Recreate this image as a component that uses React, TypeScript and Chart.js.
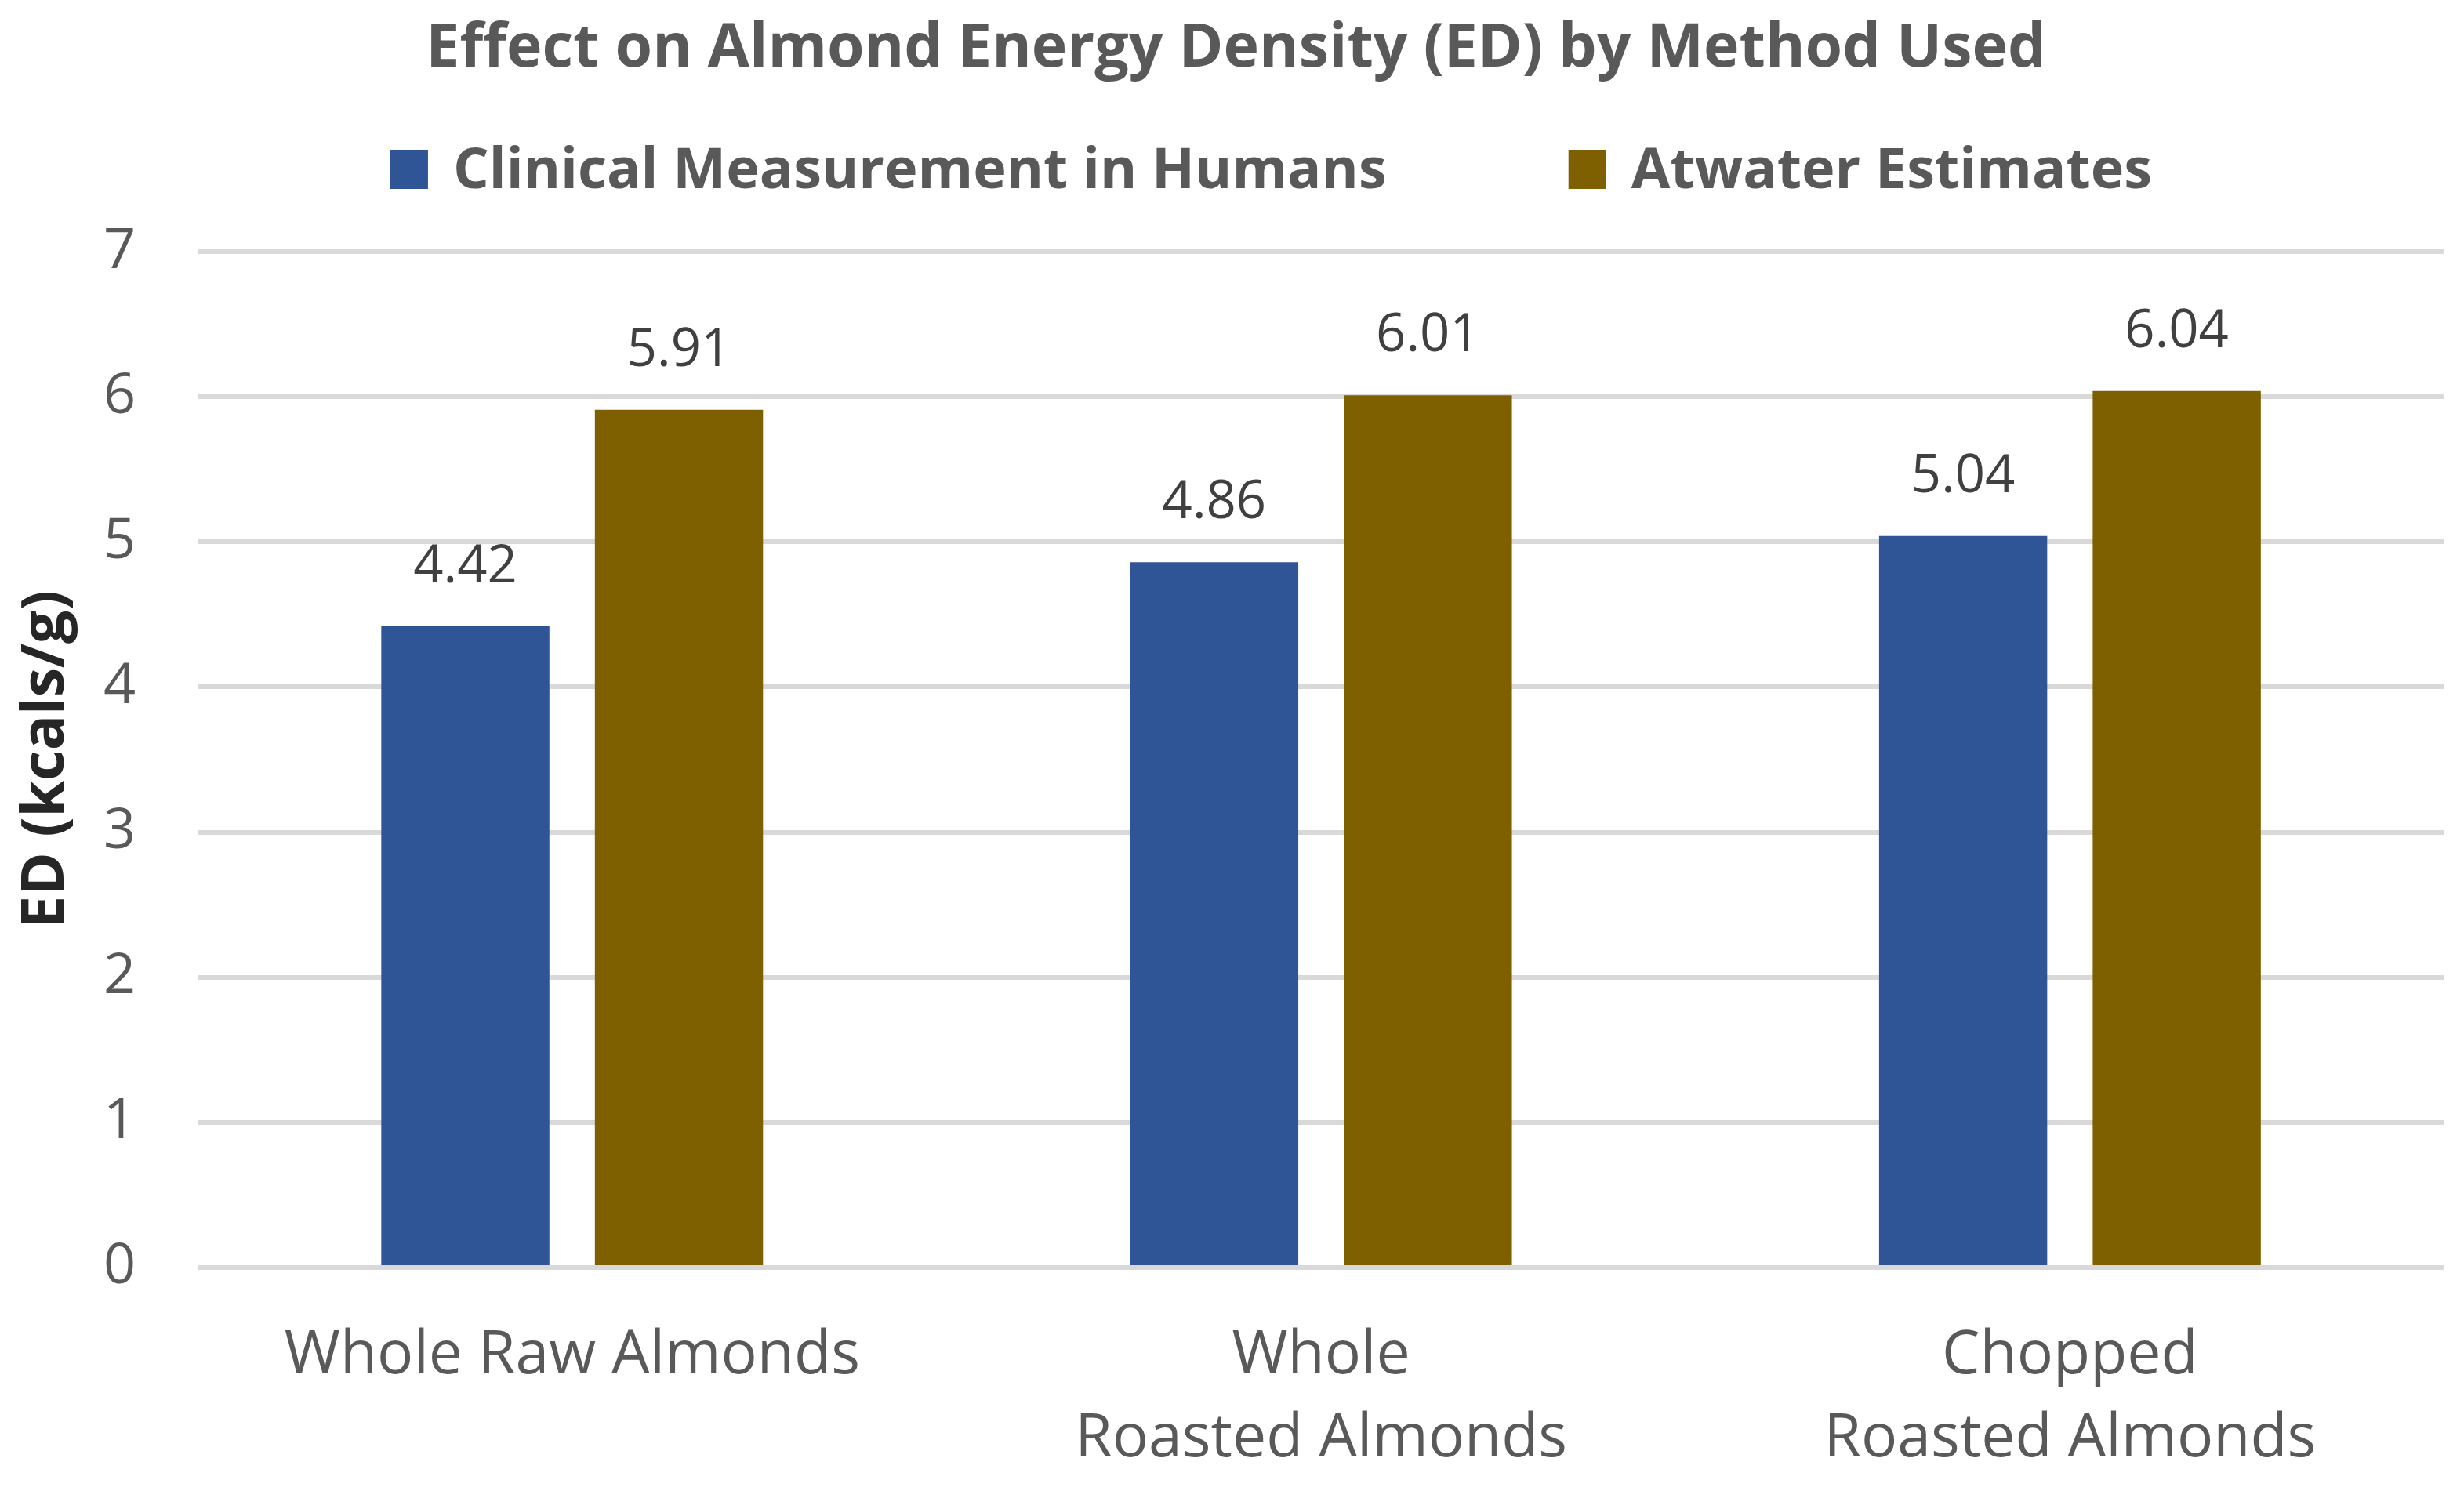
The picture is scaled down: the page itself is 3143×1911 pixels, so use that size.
import React, { useEffect, useRef } from 'react';
import { Chart, registerables } from 'chart.js';

Chart.register(...registerables);

const TITLE = 'Effect on Almond Energy Density (ED) by Method Used';
const Y_TITLE = 'ED (kcals/g)';
const categories: string[][] = [
  ['Whole Raw Almonds'],
  ['Whole', 'Roasted Almonds'],
  ['Chopped', 'Roasted Almonds'],
];
const seriesNames = ['Clinical Measurement in Humans', 'Atwater Estimates'];
const clinicalValues = [4.42, 4.86, 5.04];
const atwaterValues = [5.91, 6.01, 6.04];
const seriesColors = ['#2F5597', '#7F6000'];
const yMin = 0;
const yMax = 7;
const yStep = 1;

const FONT = '"Open Sans", "DejaVu Sans", sans-serif';

const headerPlugin = {
  id: 'header',
  afterDraw(chart: any) {
    const ctx = chart.ctx;
    ctx.save();
    // Title
    ctx.font = `bold 77px ${FONT}`;
    ctx.fillStyle = '#595959';
    ctx.textAlign = 'center';
    ctx.textBaseline = 'middle';
    ctx.fillText(TITLE, chart.width / 2 + 5, 63);

    // Legend
    ctx.font = `bold 72px ${FONT}`;
    const boxW = 48;
    const boxH = 50;
    const gap = 32;
    const itemGap = 232;
    const items = chart.data.datasets.map((ds: any) => ({
      label: ds.label as string,
      color: ds.backgroundColor as string,
      w: ctx.measureText(ds.label).width,
    }));
    const total =
      items.reduce((s: number, it: any) => s + boxW + gap + it.w, 0) + itemGap * (items.length - 1);
    let x = chart.width / 2 + 50 - total / 2;
    const boxTop = 191;
    const baseline = 240;
    ctx.textAlign = 'left';
    ctx.textBaseline = 'alphabetic';
    items.forEach((it: any) => {
      ctx.fillStyle = it.color;
      ctx.fillRect(x, boxTop, boxW, boxH);
      x += boxW + gap;
      ctx.fillStyle = '#595959';
      ctx.fillText(it.label, x, baseline);
      x += it.w + itemGap;
    });
    ctx.restore();
  },
};

const dataLabelPlugin = {
  id: 'barValueLabels',
  afterDatasetsDraw(chart: any) {
    const ctx = chart.ctx;
    ctx.save();
    ctx.font = `67px ${FONT}`;
    ctx.fillStyle = '#404040';
    ctx.textAlign = 'center';
    ctx.textBaseline = 'alphabetic';
    chart.data.datasets.forEach((ds: any, di: number) => {
      const meta = chart.getDatasetMeta(di);
      meta.data.forEach((el: any, i: number) => {
        const v = ds.data[i] as number;
        ctx.fillText(v.toFixed(2), el.x, el.y - 56);
      });
    });
    ctx.restore();
  },
};

export default function App() {
  const canvasRef = useRef<HTMLCanvasElement | null>(null);

  useEffect(() => {
    document.body.style.margin = '0';
    const canvas = canvasRef.current;
    if (!canvas) return;
    const chart = new Chart(canvas, {
      type: 'bar',
      data: {
        labels: categories as any,
        datasets: [
          {
            label: seriesNames[0],
            data: clinicalValues,
            backgroundColor: seriesColors[0],
            categoryPercentage: 0.5705,
            barPercentage: 0.787,
          },
          {
            label: seriesNames[1],
            data: atwaterValues,
            backgroundColor: seriesColors[1],
            categoryPercentage: 0.5705,
            barPercentage: 0.787,
          },
        ],
      },
      options: {
        responsive: false,
        animation: false,
        devicePixelRatio: 1,
        layout: { padding: { left: 0, right: 25, top: 321, bottom: -38 } },
        plugins: {
          legend: { display: false },
          tooltip: { enabled: false },
          title: { display: false },
        },
        scales: {
          x: {
            grid: { display: false, drawTicks: false },
            border: { display: false },
            ticks: {
              color: '#595959',
              font: { family: FONT, size: 77, lineHeight: 1.377 },
              padding: 60,
              maxRotation: 0,
              autoSkip: false,
            },
          },
          y: {
            min: yMin,
            max: yMax,
            grid: { color: '#D9D9D9', lineWidth: 6, drawTicks: false },
            border: { display: false },
            ticks: {
              stepSize: yStep,
              color: '#595959',
              font: { family: FONT, size: 72 },
              padding: 79,
            },
            title: {
              display: true,
              text: Y_TITLE,
              color: '#262626',
              font: { family: FONT, size: 75, weight: 'bold' },
              padding: { top: 15, bottom: -52 },
            },
          },
        },
      },
      plugins: [headerPlugin, dataLabelPlugin],
    });
    return () => chart.destroy();
  }, []);

  return (
    <div style={{ width: 3143, height: 1911, background: '#ffffff' }}>
      <canvas ref={canvasRef} width={3143} height={1911} style={{ display: 'block' }} />
    </div>
  );
}
